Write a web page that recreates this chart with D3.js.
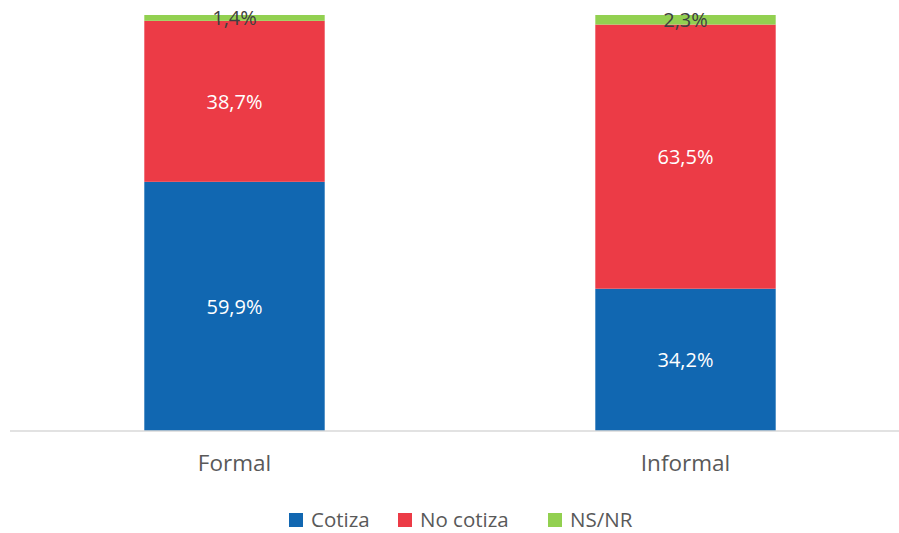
<!DOCTYPE html>
<html>
<head>
<meta charset="utf-8">
<script src="https://cdn.jsdelivr.net/npm/d3@7"></script>
<style>
  body { margin: 0; background: #fff; }
  svg { display: block; font-family: "Open Sans", "Noto Sans", sans-serif; }
</style>
</head>
<body>
<div id="chart"></div>
<script>
// categories and series (percent)
const categories = ["Formal", "Informal"];
const seriesNames = ["Cotiza", "No cotiza", "NS/NR"];
const cotiza = [59.9, 34.2];
const noCotiza = [38.7, 63.5];
const nsnr = [1.4, 2.3];

const colors = ["#1167b1", "#ec3b46", "#92d050"];
const labelColors = ["#ffffff", "#ffffff", "#404040"];

const width = 899, height = 533;

const rows = categories.map((c, i) => ({
    cat: c, "Cotiza": cotiza[i], "No cotiza": noCotiza[i], "NS/NR": nsnr[i]
}));
const stacked = d3.stack().keys(seriesNames)(rows);

const svg = d3.select("#chart").append("svg")
    .attr("width", width)
    .attr("height", height);

const x = d3.scaleBand()
    .domain(categories)
    .range([9, 911])
    .paddingInner(0.6)
    .paddingOuter(0.3);

const y = d3.scaleLinear()
    .domain([0, 100])
    .range([431, 15]);

// bars
const layers = svg.selectAll(".layer")
    .data(stacked)
    .enter().append("g")
    .attr("fill", (d, i) => colors[i]);

layers.selectAll("rect")
    .data(d => d)
    .enter().append("rect")
    .attr("x", d => x(d.data.cat))
    .attr("width", x.bandwidth())
    .attr("y", d => y(d[1]))
    .attr("height", d => y(d[0]) - y(d[1]));

// axis line
svg.append("line")
    .attr("x1", 10).attr("x2", width)
    .attr("y1", 431).attr("y2", 431)
    .attr("stroke", "#d9d9d9")
    .attr("stroke-width", 1.5);

// value labels
stacked.forEach((layer, si) => {
    svg.selectAll(".lbl" + si)
        .data(layer)
        .enter().append("text")
        .attr("x", d => x(d.data.cat) + x.bandwidth() / 2)
        .attr("y", d => (y(d[0]) + y(d[1])) / 2 + 2)
        .attr("text-anchor", "middle")
        .attr("dominant-baseline", "middle")
        .attr("font-size", 20)
        .attr("fill", labelColors[si])
        .text(d => (d[1] - d[0]).toFixed(1).replace(".", ",") + "%");
});

// category labels
svg.selectAll(".cat")
    .data(categories)
    .enter().append("text")
    .attr("x", d => x(d) + x.bandwidth() / 2)
    .attr("y", 465)
    .attr("text-anchor", "middle")
    .attr("dominant-baseline", "middle")
    .attr("font-size", 22.5)
    .attr("fill", "#595959")
    .text(d => d);

// legend
const legendX = [289, 398, 548];
const legend = svg.selectAll(".leg")
    .data(seriesNames)
    .enter().append("g")
    .attr("transform", (d, i) => `translate(${legendX[i]},513)`);
legend.append("rect")
    .attr("width", 14).attr("height", 14)
    .attr("fill", (d, i) => colors[i]);
legend.append("text")
    .attr("x", 22).attr("y", 14)
    .attr("font-size", 20.5)
    .attr("fill", "#595959")
    .text(d => d);
</script>
</body>
</html>
